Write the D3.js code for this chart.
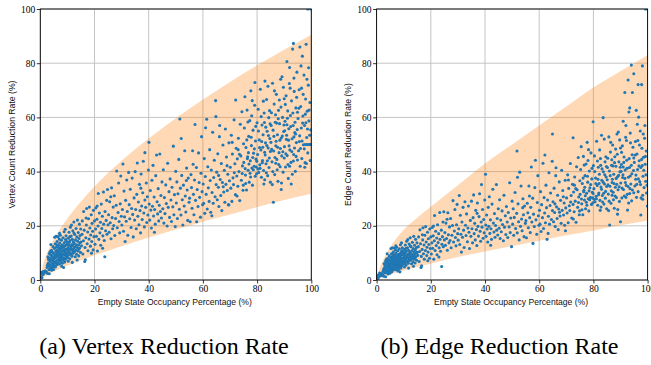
<!DOCTYPE html>
<html>
<head>
<meta charset="utf-8">
<script src="https://cdn.jsdelivr.net/npm/d3@7"></script>
<style>
  html, body { margin: 0; padding: 0; background: #ffffff; }
  svg { display: block; }
</style>
</head>
<body>
<script>
// ---- Data -----------------------------------------------------------------
// Scatter: [empty state occupancy %, vertex count reduction %]
const vertexPoints = [
[0.3,1.2],[0.5,2.4],[0.8,2.9],[1.0,2.0],[1.2,3.1],[1.5,2.6],[0.6,0.8],[1.8,3.4],[0.2,2.8],
[2.2,3.1],[2.5,4.6],[2.7,2.4],[2.9,6.2],[3.0,5.1],[3.1,7.4],[3.2,3.8],[3.3,2.3],[3.4,8.1],[3.5,5.7],[3.6,4.2],[3.7,6.8],[3.8,9.3],[3.9,13.1],[4.0,5.0],[4.1,7.7],[4.2,3.6],[4.3,8.8],[4.4,6.1],[4.5,10.2],[4.5,4.7],[4.6,7.2],[4.7,12.3],[4.8,5.5],[4.8,8.4],[4.9,9.8],[5.0,6.6],[3.0,7.9],[2.6,5.4],[4.1,11.0],[3.3,9.8],[4.4,4.1],[2.8,8.6],[4.9,3.9],[3.6,10.4],
[5.1,7.9],[5.2,11.6],[5.2,5.3],[5.3,15.8],[5.4,9.1],[5.4,6.4],[5.5,13.4],[5.6,8.2],[5.6,4.8],[5.7,10.5],[5.8,7.0],[5.8,16.1],[5.9,12.1],[6.0,9.6],[6.0,6.1],[6.1,8.7],[6.2,14.2],[6.2,5.6],[6.3,11.0],[6.4,7.5],[6.4,10.1],[6.5,16.0],[6.6,8.9],[6.6,6.3],[6.7,12.7],[6.8,9.8],[6.8,7.2],[6.9,11.7],[7.0,15.1],[7.0,8.1],[7.1,5.9],[7.2,10.6],[7.2,13.6],[7.3,7.6],[7.4,9.3],[7.4,16.5],[7.5,11.3],[7.6,6.8],[7.6,8.6],[7.7,12.4],[7.8,10.0],[7.8,14.7],[7.9,7.9],[8.0,9.0],[8.0,11.8],[8.1,6.2],[8.2,13.0],[8.2,8.4],[8.3,10.7],[8.4,15.6],[8.5,7.3],[8.5,12.1],[8.6,9.5],[8.7,11.0],[8.8,17.8],[8.8,8.0],[8.9,13.8],[9.0,10.3],[9.0,6.6],[9.1,12.6],[9.2,9.1],[9.3,14.9],[9.3,11.4],[9.4,7.7],[9.5,10.0],[9.5,16.3],[9.6,12.9],[9.7,8.7],[9.8,11.1],[9.8,14.2],[9.9,9.7],[10.0,13.3],[6.1,13.0],[7.9,5.1],[8.6,4.6],[5.9,10.8],[7.1,17.2],[9.2,18.7],
[10.1,8.3],[10.2,11.9],[10.3,15.4],[10.3,6.9],[10.4,10.4],[10.5,12.8],[10.6,9.2],[10.6,17.6],[10.7,13.9],[10.8,11.2],[10.9,7.8],[11.0,14.6],[11.0,10.0],[11.1,19.5],[11.2,12.3],[11.3,9.6],[11.4,16.2],[11.5,11.5],[11.5,20.3],[11.6,13.1],[11.7,8.8],[11.8,15.0],[11.9,10.8],[12.0,12.7],[12.0,18.2],[12.1,9.9],[12.2,14.1],[12.3,11.6],[12.4,21.4],[12.5,13.5],[12.6,10.4],[12.7,16.8],[12.8,12.2],[12.9,8.6],[13.0,14.8],[13.1,11.0],[13.2,19.0],[13.3,13.0],[13.4,9.5],[13.5,15.9],[13.6,12.0],[13.7,22.1],[13.8,14.3],[13.9,10.7],[14.0,17.5],[14.1,12.9],[14.2,8.9],[14.3,15.3],[14.4,20.6],[14.5,11.8],[14.6,13.7],[14.7,16.4],[14.8,10.2],[14.9,18.8],[15.0,14.0],[11.8,6.5],[13.6,7.4],[12.4,17.3],[10.9,16.0],[14.2,11.4],
[15.2,12.6],[15.4,16.9],[15.5,21.8],[15.7,9.6],[15.9,14.5],[16.0,25.3],[16.2,18.4],[16.4,6.8],[16.5,12.0],[16.6,7.5],[16.8,15.6],[17.0,20.3],[17.1,26.4],[17.3,13.4],[17.5,17.7],[17.6,10.8],[17.8,22.6],[18.0,15.1],[18.1,26.9],[18.3,19.2],[18.5,12.5],[18.6,16.6],[18.8,24.1],[19.0,14.2],[19.1,20.9],[19.3,18.0],[19.5,11.1],[19.6,25.7],[19.8,16.0],[20.0,21.8],[16.9,22.9],[18.9,9.9],
[20.2,13.2],[20.4,18.8],[20.5,26.6],[20.7,16.1],[20.9,22.4],[21.1,10.7],[21.3,19.9],[21.4,31.9],[21.6,15.0],[21.8,24.7],[22.0,17.4],[22.2,21.3],[22.3,12.8],[22.5,28.0],[22.7,19.0],[22.9,23.5],[23.1,16.3],[23.3,32.5],[23.4,20.6],[23.6,14.6],[23.8,8.6],[23.9,25.3],[24.1,18.2],[24.3,22.0],[24.5,29.4],[24.6,16.9],[24.8,33.4],[25.0,20.4],[21.0,27.3],[23.0,11.7],
[25.2,24.1],[25.4,17.6],[25.6,28.9],[25.8,21.1],[26.1,15.2],[26.3,34.0],[26.5,23.0],[26.7,18.9],[26.9,26.9],[27.1,20.1],[27.3,31.1],[27.5,16.4],[27.8,22.7],[28.0,27.6],[28.2,40.2],[28.4,19.3],[28.7,24.9],[28.9,35.8],[29.1,21.6],[29.3,17.4],[29.5,28.1],[29.7,38.4],[29.9,23.5],[26.0,30.7],
[30.1,20.3],[30.3,26.0],[30.5,42.8],[30.7,18.0],[30.9,32.8],[31.1,23.3],[31.3,14.2],[31.5,29.4],[31.7,21.7],[31.9,36.9],[32.1,25.3],[32.3,16.5],[32.6,39.7],[32.8,27.8],[33.0,22.6],[33.2,33.5],[33.5,19.4],[33.7,26.4],[33.9,37.6],[34.1,24.2],[34.3,15.9],[34.6,30.3],[34.8,22.1],[35.0,40.0],
[35.2,26.0],[35.4,18.9],[35.6,31.6],[35.8,43.2],[36.0,23.5],[36.2,28.8],[36.4,20.4],[36.6,35.3],[36.8,25.6],[37.0,17.4],[37.2,39.1],[37.4,27.3],[37.6,22.3],[37.8,32.2],[38.0,43.8],[38.2,24.7],[38.4,19.6],[38.6,29.5],[38.6,47.0],[38.9,26.8],[39.1,35.8],[39.3,21.2],[39.5,30.7],[39.7,24.0],[39.9,40.6],[37.1,33.9],
[40.1,50.8],[40.2,28.0],[40.4,22.1],[40.6,33.0],[40.8,25.8],[41.0,19.2],[41.2,36.8],[41.4,27.2],[41.6,42.3],[41.8,23.6],[42.0,30.6],[42.2,26.0],[42.4,20.6],[42.6,38.5],[42.9,46.1],[43.1,28.9],[43.3,24.4],[43.5,33.7],[43.7,21.8],[43.9,27.6],[44.1,46.5],[44.3,25.3],[44.5,31.2],[44.7,22.9],[44.9,36.2],[42.1,17.6],
[45.2,26.3],[45.4,40.7],[45.6,21.0],[45.8,30.4],[46.0,24.5],[46.3,35.1],[46.5,28.2],[46.8,19.9],[47.0,43.1],[47.2,26.8],[47.5,32.6],[47.7,23.1],[47.9,37.3],[48.2,29.5],[48.4,21.6],[48.6,34.2],[48.9,27.0],[49.1,49.4],[49.3,24.1],[49.5,31.5],[49.8,19.7],[50.0,40.1],
[50.2,28.4],[50.4,36.2],[50.6,22.7],[50.8,31.8],[51.1,44.5],[51.3,26.1],[51.5,59.4],[51.7,33.9],[51.9,24.0],[52.2,38.6],[52.4,29.6],[52.6,20.3],[52.8,35.0],[53.1,27.3],[53.3,47.7],[53.5,31.0],[53.7,25.1],[54.0,41.3],[54.2,33.2],[54.4,22.0],[54.6,37.6],[54.9,28.7],[52.0,52.2],[53.9,36.7],
[55.1,30.2],[55.3,21.5],[55.6,38.9],[55.8,34.1],[56.0,26.5],[56.2,47.7],[56.5,31.6],[56.7,24.1],[56.9,36.9],[57.1,57.4],[57.3,29.4],[57.6,41.5],[57.7,21.5],[57.9,33.4],[58.2,27.1],[58.4,46.9],[58.6,36.0],[58.8,30.5],[59.1,23.2],[59.3,39.4],[59.5,52.9],[59.7,32.6],[59.9,27.8],[56.4,42.7],
[60.1,35.4],[60.3,28.3],[60.5,44.8],[60.7,24.6],[60.9,38.2],[61.2,31.6],[61.4,59.3],[61.6,26.2],[61.8,41.8],[62.0,34.0],[62.3,29.0],[62.5,48.1],[62.7,36.7],[62.9,25.0],[63.1,40.6],[63.4,32.3],[63.6,54.5],[63.8,28.3],[64.0,37.8],[64.2,44.2],[64.5,30.7],[64.7,66.2],[64.8,60.3],[64.9,35.2],[61.0,56.2],[63.3,23.7],
[65.1,39.8],[65.3,29.6],[65.5,46.6],[65.7,34.2],[65.9,27.1],[66.1,52.9],[66.4,37.1],[66.6,31.2],[66.8,43.0],[67.0,25.6],[67.2,36.0],[67.4,49.8],[67.7,32.5],[67.9,40.5],[68.1,28.7],[68.3,55.7],[68.5,35.3],[68.7,45.4],[69.0,33.0],[69.2,39.0],[69.4,27.8],[69.6,50.6],[69.6,27.7],[69.8,36.6],[66.2,57.0],[68.9,42.2],[67.5,34.4],[65.8,38.6],
[70.1,41.6],[70.3,33.9],[70.5,53.4],[70.7,29.0],[70.9,46.5],[71.1,37.7],[71.3,35.2],[71.5,59.1],[71.8,42.9],[72.0,31.5],[72.1,66.4],[72.3,48.6],[72.5,38.4],[72.7,44.7],[72.9,34.6],[73.1,52.3],[73.3,40.0],[73.6,29.3],[73.8,57.5],[74.0,45.8],[74.2,36.8],[74.4,62.1],[74.6,42.1],[74.8,33.1],[75.0,50.3],[71.6,39.6],[73.0,48.1],[74.5,39.3],[70.8,50.8],[72.6,31.0],[74.9,35.0],[73.5,46.4],
[75.1,43.4],[75.3,56.1],[75.5,67.6],[75.7,38.7],[75.9,48.9],[76.1,33.2],[76.3,62.7],[76.5,45.5],[76.7,40.5],[76.9,53.0],[77.1,36.1],[77.3,58.8],[77.5,44.0],[77.7,69.8],[77.9,49.6],[78.1,41.3],[78.3,35.0],[78.5,55.3],[78.7,46.8],[78.9,42.0],[79.1,64.5],[79.2,72.9],[79.4,51.3],[79.6,44.6],[79.8,39.2],[80.0,58.0],[75.6,41.1],[76.2,51.7],[76.8,47.0],[77.4,39.4],[78.0,60.6],[78.6,40.7],[79.0,48.4],[79.5,56.7],[77.0,42.8],[78.4,45.2],[79.7,41.7],[75.8,35.6],[76.6,58.3],[77.8,52.7],[79.3,38.3],[78.2,66.2],[76.4,44.8],[77.6,38.0],[79.9,43.8],
[80.2,46.3],[80.4,63.0],[80.6,39.7],[80.8,51.7],[81.0,42.5],[81.2,70.4],[81.4,48.0],[81.6,37.9],[81.8,57.2],[82.0,44.1],[82.2,53.6],[82.4,40.4],[82.6,61.6],[82.8,47.1],[82.9,73.4],[83.1,50.6],[83.3,42.9],[83.5,66.6],[83.7,54.9],[83.9,38.5],[84.1,48.7],[84.3,59.9],[84.5,45.0],[84.7,52.2],[84.9,36.1],[81.1,41.2],[81.5,60.3],[82.1,49.0],[82.5,35.4],[83.0,46.1],[83.6,49.6],[84.0,71.5],[84.4,41.5],[84.8,57.6],[80.5,55.0],[81.9,43.3],[82.7,58.1],[83.4,39.6],[84.2,53.3],[80.9,48.9],[82.3,66.0],[83.8,44.0],[84.6,62.5],[80.3,41.0],[81.7,51.1],[83.2,56.4],[84.9,47.4],[82.8,37.0],
[85.1,50.8],[85.3,61.7],[85.5,43.6],[85.7,72.6],[85.9,55.3],[86.0,28.7],[86.1,47.6],[86.3,64.9],[86.5,38.9],[86.7,58.2],[86.9,49.5],[87.1,68.5],[87.3,44.5],[87.5,53.6],[87.7,36.4],[87.9,62.6],[88.1,47.0],[88.3,57.7],[88.5,41.8],[88.7,74.1],[88.9,52.4],[89.1,45.8],[89.2,75.0],[89.4,60.0],[89.6,39.8],[89.8,54.8],[90.0,66.9],[85.4,48.2],[85.8,40.0],[86.2,53.0],[86.6,45.2],[86.8,61.0],[87.2,57.9],[87.6,49.0],[88.0,42.6],[88.4,51.6],[88.8,63.8],[89.0,35.8],[89.5,47.3],[89.9,57.2],[85.6,35.2],[86.4,69.8],[87.4,40.7],[88.2,66.4],[88.6,48.5],[89.3,53.1],[87.8,59.5],[86.9,43.1],[85.2,57.0],[88.9,33.4],[87.0,51.2],[89.7,71.1],
[90.1,49.2],[90.3,58.6],[90.5,41.7],[90.7,68.0],[90.9,53.4],[91.0,80.6],[91.1,45.9],[91.3,62.4],[91.5,37.5],[91.7,55.8],[91.9,72.5],[92.1,48.0],[92.3,60.7],[92.5,43.4],[92.7,66.1],[92.9,52.1],[93.1,85.2],[93.3,57.0],[93.4,87.3],[93.5,46.3],[93.7,69.6],[93.9,54.4],[94.1,40.1],[94.3,63.5],[94.5,50.7],[94.7,76.7],[94.9,44.3],[90.2,55.1],[90.6,46.6],[91.2,59.7],[91.6,51.6],[92.0,42.0],[92.4,56.6],[92.8,47.4],[93.2,61.6],[93.6,52.8],[94.0,58.2],[94.4,45.6],[94.8,55.5],[90.4,64.8],[91.4,42.6],[92.2,70.8],[93.0,39.0],[93.8,48.7],[94.6,67.4],[91.8,49.5],[92.6,35.4],[94.2,53.9],[90.8,51.9],[93.4,43.9],[92.0,78.4],[91.0,57.3],[94.9,61.9],[93.6,74.5],[90.0,45.0],
[95.1,59.6],[95.3,47.7],[95.5,70.2],[95.7,53.2],[95.8,86.0],[95.9,42.0],[96.1,64.0],[96.3,56.1],[96.5,44.8],[96.7,82.6],[96.9,60.5],[97.1,49.9],[97.3,75.6],[97.5,57.0],[97.7,43.3],[97.9,66.8],[98.1,87.0],[98.3,52.6],[98.5,62.3],[98.7,46.9],[98.9,71.9],[99.1,58.7],[99.3,50.0],[99.5,65.5],[99.7,50.0],[99.9,50.0],[97.7,50.0],[98.3,50.0],[98.8,50.0],[96.2,79.0],[96.6,51.3],[97.0,68.5],[97.4,48.4],[97.8,61.2],[98.2,43.0],[98.6,55.7],[99.0,78.3],[99.4,53.4],[95.4,63.4],[96.0,48.5],[96.8,57.9],[97.6,41.6],[98.4,74.1],[99.2,62.7],[95.6,51.1],[96.4,70.8],[98.0,58.0],[99.6,44.1],[98.7,100],[99.8,100],[99.8,55.4]
];

// Scatter: [empty state occupancy %, edge count reduction %]
const edgePoints = [
[0.3,1.0],[0.6,1.8],[0.9,1.3],[1.2,2.1],[1.5,1.6],[1.9,2.4],[0.5,0.6],[1.1,2.6],
[2.2,1.9],[2.4,3.2],[2.6,1.4],[2.8,4.3],[3.0,2.6],[3.1,5.2],[3.2,3.6],[3.3,1.2],[3.4,6.1],[3.5,4.0],[3.6,2.8],[3.7,4.9],[3.8,6.8],[3.9,9.7],[4.0,3.4],[4.1,5.5],[4.2,2.2],[4.3,6.4],[4.4,4.4],[4.5,7.5],[4.5,3.0],[4.6,5.1],[4.7,8.9],[4.8,3.8],[4.8,6.0],[4.9,7.2],[5.0,4.7],[3.0,5.7],[2.6,3.9],[4.1,8.0],[3.3,7.0],[4.4,2.6],[2.8,6.1],[4.9,2.5],[3.6,7.6],
[5.1,5.6],[5.2,8.3],[5.2,3.5],[5.3,11.6],[5.4,6.5],[5.4,4.3],[5.5,9.7],[5.6,5.8],[5.6,3.0],[5.7,7.6],[5.8,4.9],[5.8,11.9],[5.9,8.8],[6.0,6.8],[6.0,4.0],[6.1,6.1],[6.2,10.4],[6.2,3.7],[6.3,8.0],[6.4,5.3],[6.4,7.2],[6.5,11.8],[6.6,6.3],[6.6,4.2],[6.7,9.2],[6.8,7.0],[6.8,5.0],[6.9,8.5],[7.0,11.1],[7.0,5.7],[7.1,3.8],[7.2,7.6],[7.2,9.9],[7.3,5.3],[7.4,6.6],[7.4,12.1],[7.5,8.2],[7.6,4.6],[7.6,6.0],[7.7,9.0],[7.8,7.1],[7.8,10.8],[7.9,5.5],[8.0,6.4],[8.0,8.6],[8.1,4.1],[8.2,9.5],[8.2,5.9],[8.3,7.7],[8.4,11.5],[8.5,5.0],[8.5,8.8],[8.6,6.7],[8.7,7.9],[8.8,13.0],[8.8,5.6],[8.9,10.1],[9.0,7.4],[9.0,4.4],[9.1,9.2],[9.2,6.4],[9.3,10.9],[9.3,8.2],[9.4,5.3],[9.5,7.1],[9.5,11.9],[9.6,9.4],[9.7,6.0],[9.8,8.0],[9.8,10.4],[9.9,6.9],[10.0,9.7],[6.1,9.5],[7.9,3.3],[8.6,3.0],[5.9,7.8],[7.1,12.6],[9.2,13.7],
[10.1,5.9],[10.2,8.7],[10.3,11.3],[10.3,4.8],[10.4,7.5],[10.5,9.3],[10.6,6.5],[10.6,12.9],[10.7,10.2],[10.8,8.1],[10.9,5.5],[11.0,10.7],[11.0,7.2],[11.1,14.3],[11.2,8.9],[11.3,6.8],[11.4,11.9],[11.5,8.3],[11.5,14.9],[11.6,9.6],[11.7,6.2],[11.8,11.0],[11.9,7.8],[12.0,9.3],[12.0,13.3],[12.1,7.1],[12.2,10.3],[12.3,8.4],[12.4,15.6],[12.5,9.9],[12.6,7.5],[12.7,12.3],[12.8,8.9],[12.9,6.0],[13.0,10.8],[13.1,7.9],[13.2,13.9],[13.3,9.5],[13.4,6.7],[13.5,11.6],[13.6,8.7],[13.7,16.1],[13.8,10.4],[13.9,7.7],[14.0,12.8],[14.1,9.4],[14.2,6.3],[14.3,11.2],[14.4,15.0],[14.5,8.6],[14.6,10.0],[14.7,12.0],[14.8,7.3],[14.9,13.7],[15.0,10.2],[11.8,4.4],[13.6,5.1],[12.4,12.6],[10.9,11.7],[14.2,8.2],
[15.2,9.1],[15.4,12.3],[15.5,15.9],[15.7,6.8],[15.9,10.5],[16.0,18.5],[16.2,13.4],[16.4,4.6],[16.5,8.7],[16.6,5.2],[16.8,11.3],[17.0,14.8],[17.1,19.3],[17.3,9.7],[17.5,12.9],[17.6,7.7],[17.8,16.5],[18.0,10.9],[18.1,19.7],[18.3,14.0],[18.5,9.0],[18.6,12.1],[18.8,17.6],[19.0,10.3],[19.1,15.2],[19.3,13.1],[19.5,8.0],[19.6,18.8],[19.8,11.6],[20.0,15.9],[16.9,16.7],[18.9,7.1],
[20.2,9.6],[20.4,13.7],[20.5,19.4],[20.7,11.7],[20.9,16.3],[21.1,7.7],[21.3,14.5],[21.4,23.8],[21.6,10.9],[21.8,18.0],[22.0,12.7],[22.2,15.5],[22.3,9.3],[22.5,20.4],[22.7,13.8],[22.9,17.1],[23.1,11.9],[23.3,24.9],[23.4,15.0],[23.6,10.6],[24.0,5.0],[23.9,18.4],[24.1,13.2],[24.3,16.0],[24.5,21.4],[24.6,12.3],[24.8,25.2],[25.0,14.8],[21.0,19.9],[23.0,8.5],
[25.2,17.5],[25.4,12.8],[25.6,21.0],[25.8,15.3],[26.1,11.0],[26.3,24.8],[26.5,16.7],[26.7,13.7],[26.9,19.6],[27.1,14.6],[27.3,22.7],[27.5,11.9],[27.8,16.5],[28.0,20.1],[28.2,29.3],[28.4,14.0],[28.7,18.1],[28.9,26.0],[29.1,15.7],[29.3,12.6],[29.5,20.4],[29.7,27.9],[29.9,17.1],[26.0,22.4],
[30.1,14.7],[30.3,18.9],[30.5,31.2],[30.7,13.1],[30.9,23.9],[31.1,16.9],[31.3,10.3],[31.5,21.4],[31.7,15.8],[31.9,26.8],[32.1,18.4],[32.3,12.0],[32.6,28.9],[32.8,20.2],[33.0,16.4],[33.2,24.4],[33.5,14.1],[33.7,19.2],[33.9,27.3],[34.1,17.6],[34.3,11.6],[34.6,22.0],[34.8,16.1],[35.0,29.1],
[35.2,18.9],[35.4,13.7],[35.6,23.0],[35.8,31.4],[36.0,17.1],[36.2,20.9],[36.4,14.8],[36.6,25.7],[36.8,18.6],[37.0,12.7],[37.2,28.4],[37.4,19.8],[37.6,16.2],[37.8,23.4],[38.0,31.8],[38.2,18.0],[38.4,14.3],[38.6,21.4],[38.7,35.2],[38.9,19.5],[39.1,26.0],[39.3,15.4],[39.5,22.3],[39.7,17.4],[39.9,29.5],[37.1,24.6],
[40.2,39.0],[40.3,20.3],[40.4,16.1],[40.6,24.0],[40.8,18.8],[41.0,14.0],[41.2,26.8],[41.4,19.8],[41.6,30.7],[41.8,17.2],[42.0,22.2],[42.2,18.9],[42.4,15.0],[42.6,28.0],[42.9,33.5],[43.1,21.0],[43.3,17.7],[43.5,24.5],[43.7,15.8],[43.9,20.1],[44.2,35.2],[44.3,18.4],[44.5,22.7],[44.7,16.6],[44.9,26.3],[42.1,12.8],
[45.2,19.1],[45.4,29.6],[45.6,15.3],[45.8,22.1],[46.0,17.8],[46.3,25.5],[46.5,20.5],[46.8,14.5],[47.0,31.3],[47.2,19.5],[47.5,23.7],[47.7,16.8],[47.9,27.1],[48.2,21.4],[48.4,15.7],[48.6,24.9],[48.9,19.6],[49.1,35.9],[49.3,17.5],[49.5,22.9],[49.8,12.3],[50.0,29.1],
[50.2,20.6],[50.4,26.3],[50.6,16.5],[50.8,23.1],[51.1,32.3],[51.3,19.0],[51.8,47.6],[51.7,24.6],[51.9,17.4],[52.2,28.1],[52.4,21.5],[52.6,14.8],[52.8,39.8],[53.1,19.8],[53.3,34.7],[53.5,22.5],[53.7,18.2],[54.0,30.0],[54.2,24.1],[54.4,16.0],[54.6,27.3],[54.9,20.9],[52.0,37.9],[53.9,26.7],
[55.1,21.9],[55.3,15.6],[55.6,28.3],[55.8,24.8],[56.0,19.3],[56.2,34.7],[56.5,23.0],[56.7,17.5],[56.9,26.8],[57.1,41.7],[57.3,21.4],[57.6,30.2],[57.7,13.5],[57.9,24.3],[58.2,19.7],[58.4,34.1],[58.6,44.2],[58.8,22.2],[59.1,16.9],[59.3,28.6],[59.5,38.5],[59.7,23.7],[59.9,20.2],[56.4,31.0],
[60.1,25.7],[60.3,20.6],[60.5,32.6],[60.7,17.9],[60.9,27.8],[61.2,23.0],[61.4,43.1],[61.6,19.0],[61.8,30.4],[62.1,46.1],[62.0,24.7],[62.3,21.1],[62.5,35.0],[62.7,26.7],[62.9,15.0],[63.1,29.5],[63.4,23.5],[63.6,39.6],[63.8,20.6],[64.0,27.5],[64.2,32.1],[64.5,22.3],[64.9,53.9],[64.8,43.8],[64.9,25.6],[63.3,17.2],
[65.1,28.9],[65.3,21.5],[65.5,33.9],[65.7,24.9],[65.9,19.7],[66.1,38.5],[66.4,27.0],[66.6,22.7],[66.8,31.3],[67.0,18.6],[67.2,26.2],[67.4,36.2],[67.7,23.6],[67.9,29.4],[68.1,20.9],[68.3,40.5],[68.5,25.7],[68.7,33.0],[69.0,24.0],[69.2,28.4],[69.4,20.2],[69.6,36.8],[69.7,18.2],[69.8,26.6],[66.2,41.4],[68.9,30.7],[67.5,25.0],[65.8,28.1],
[70.1,30.3],[70.3,24.7],[70.5,38.8],[70.7,21.1],[70.9,33.8],[71.1,27.4],[71.3,25.6],[71.5,43.0],[71.8,31.2],[72.0,22.9],[72.5,52.5],[72.3,35.3],[72.5,27.9],[72.7,32.5],[72.9,25.2],[73.1,38.0],[73.3,29.1],[73.6,21.3],[73.8,41.8],[74.0,33.3],[74.2,26.8],[74.4,45.2],[74.6,30.6],[74.8,24.1],[75.0,36.6],[71.6,28.8],[73.0,35.0],[74.5,28.6],[70.8,36.9],[72.6,22.5],[74.9,25.5],[73.5,33.7],
[75.1,31.6],[75.3,40.8],[75.5,49.2],[75.7,28.1],[75.9,35.6],[76.1,24.1],[76.3,45.6],[76.5,33.1],[76.7,29.5],[76.9,38.5],[77.1,26.3],[77.3,42.8],[77.5,32.0],[77.7,50.8],[77.9,36.1],[78.1,30.0],[78.3,25.5],[78.5,40.2],[78.7,34.0],[78.9,30.5],[79.1,46.9],[79.9,58.4],[79.4,37.3],[79.6,32.4],[79.8,28.5],[80.0,42.2],[75.6,29.9],[76.2,37.6],[76.8,34.2],[77.4,28.7],[78.0,44.1],[78.6,29.6],[79.0,35.2],[79.5,41.2],[77.0,31.1],[78.4,32.9],[79.7,30.3],[75.8,25.9],[76.6,42.4],[77.8,38.3],[79.3,27.9],[78.2,48.1],[76.4,32.6],[77.6,27.6],[79.9,31.9],
[80.2,33.7],[80.4,45.8],[80.6,28.9],[80.8,37.6],[81.0,30.9],[81.2,51.2],[81.4,34.9],[81.6,27.6],[81.8,41.6],[82.0,32.1],[82.2,39.0],[82.4,29.4],[82.6,44.8],[82.8,34.3],[83.0,53.4],[83.1,36.8],[83.3,31.2],[83.6,59.9],[83.7,39.9],[83.9,28.0],[84.1,35.4],[84.3,43.6],[84.5,32.7],[84.7,38.0],[84.9,26.3],[81.1,30.0],[81.5,43.9],[82.1,35.6],[82.5,25.7],[83.0,33.5],[83.6,36.1],[84.0,52.0],[84.4,30.2],[84.8,41.9],[80.5,40.0],[81.9,31.5],[82.7,42.3],[83.4,28.8],[84.2,38.8],[80.9,35.6],[82.3,48.0],[83.8,32.0],[84.6,45.5],[80.3,29.8],[81.7,37.2],[83.2,41.0],[84.9,34.5],[82.8,26.9],
[85.1,37.0],[85.3,44.9],[85.5,31.7],[85.7,52.8],[85.9,40.2],[86.0,20.3],[86.1,34.6],[86.3,47.2],[86.5,28.3],[86.7,42.3],[86.9,36.0],[87.1,49.8],[87.3,32.4],[87.5,39.0],[87.7,26.5],[87.9,45.5],[88.1,34.2],[88.3,42.0],[88.5,30.4],[88.7,53.9],[88.9,38.1],[89.1,33.3],[89.2,54.6],[89.4,43.6],[89.6,29.0],[89.8,39.9],[90.0,48.7],[85.4,35.1],[85.8,29.1],[86.2,38.5],[86.6,32.9],[86.8,44.4],[87.2,42.1],[87.6,35.6],[88.0,31.0],[88.4,37.5],[88.8,46.4],[89.0,26.0],[89.5,34.4],[89.9,41.6],[85.6,25.6],[86.4,50.8],[87.4,29.6],[88.2,48.3],[88.6,35.3],[89.3,38.6],[87.8,43.3],[86.9,31.3],[85.2,41.5],[88.9,24.3],[87.0,37.2],[89.7,51.7],
[90.1,35.8],[90.3,42.6],[90.5,30.3],[90.7,49.5],[90.9,38.8],[91.0,58.6],[91.1,33.4],[91.3,45.4],[91.6,69.2],[91.7,40.6],[91.9,52.7],[92.1,34.9],[92.3,44.2],[92.5,31.6],[92.8,73.8],[92.9,37.9],[93.1,62.0],[93.3,41.5],[93.4,63.5],[93.5,33.7],[93.7,50.6],[94.0,79.3],[94.1,29.2],[94.3,46.2],[94.4,69.2],[94.9,76.1],[94.9,32.2],[90.2,40.1],[90.6,33.9],[91.2,43.4],[91.6,37.5],[92.0,30.5],[92.4,41.2],[92.8,34.5],[93.2,44.8],[93.6,38.4],[94.0,42.3],[94.4,33.2],[94.8,40.4],[90.4,47.1],[91.4,31.0],[92.2,51.5],[93.0,28.4],[93.8,35.4],[94.6,49.0],[91.8,36.0],[92.6,25.8],[94.2,39.2],[90.8,37.8],[93.4,31.9],[92.0,57.0],[91.0,41.7],[94.9,45.0],[93.6,54.2],[90.0,21.5],
[95.1,43.4],[95.3,34.7],[95.5,51.1],[95.7,38.7],[95.8,62.6],[95.9,30.5],[96.1,46.5],[96.5,72.1],[96.3,40.8],[96.5,32.6],[96.7,60.1],[96.9,44.0],[97.1,36.3],[97.3,55.0],[97.5,41.5],[97.8,72.1],[97.9,48.6],[98.1,79.0],[98.3,38.3],[98.5,45.3],[98.7,34.1],[98.9,52.3],[99.1,42.7],[99.3,36.4],[99.5,47.6],[99.9,27.3],[98.2,29.8],[97.5,24.0],[96.2,57.5],[96.6,37.3],[97.0,49.8],[97.4,35.2],[97.8,44.5],[98.2,31.3],[98.6,40.5],[99.0,57.0],[99.4,38.8],[95.4,46.1],[96.0,35.3],[96.8,42.1],[97.6,30.3],[98.4,53.9],[99.2,45.6],[95.6,37.2],[96.4,51.5],[98.0,42.2],[99.6,32.1],[99.2,100],[99.9,100],[99.8,35.0]
];

// Shaded envelope, sampled along the occupancy axis
const bandX            = [0, 1,   2,   5,    10,   15,   20,   30,   40,   50,   60,   70,   80,   90,   100];
const vertexBandUpper  = [0, 5.7, 8.7, 15.0, 22.7, 29.0, 34.5, 44.0, 52.2, 59.7, 66.6, 73.1, 79.2, 85.0, 90.5];
const vertexBandLower  = [0, 0.9, 1.5, 3.1,  5.3,  7.3,  9.1,  12.5, 15.7, 18.6, 21.5, 24.2, 26.9, 29.5, 31.8];
const edgeBandUpper    = [0, 4.0, 6.5, 12.0, 18.5, 23.0, 27.0, 35.0, 43.0, 50.0, 57.0, 64.0, 71.0, 77.0, 83.0];
const edgeBandLower    = [0, 0.5, 1.0, 2.0,  3.5,  4.8,  6.0,  8.5,  10.5, 12.5, 14.5, 16.5, 18.3, 20.2, 22.0];

const xTicks = [0, 20, 40, 60, 80, 100];
const yTicks = [0, 20, 40, 60, 80, 100];
const xLabel = "Empty State Occupancy Percentage (%)";
const yLabels = ["Vertex Count Reduction Rate (%)", "Edge Count Reduction Rate (%)"];
const captions = ["(a) Vertex Reduction Rate", "(b) Edge Reduction Rate"];

// ---- Layout ---------------------------------------------------------------
const W = 651, H = 365;
const plotTop = 9, plotBottom = 280;
const panels = [
  { left: 40.3, right: 311.3, yLabelX: 11.5, captionX: 164, points: vertexPoints,
    upper: vertexBandUpper, lower: vertexBandLower, yLabel: yLabels[0], caption: captions[0] },
  { left: 376.6, right: 647.6, yLabelX: 348, captionX: 499.5, points: edgePoints,
    upper: edgeBandUpper, lower: edgeBandLower, yLabel: yLabels[1], caption: captions[1] }
];

const tickFont = "'Liberation Serif', 'Times New Roman', serif";
const labelFont = "'Liberation Sans', Arial, sans-serif";

const svg = d3.select("body").append("svg")
  .attr("width", W).attr("height", H)
  .attr("viewBox", `0 0 ${W} ${H}`);

// scale a text element's font size so its rendered width hits a target
function fitWidth(sel, target) {
  const node = sel.node();
  const w = node.getComputedTextLength();
  const fs = parseFloat(sel.attr("font-size"));
  if (w > 0) sel.attr("font-size", (fs * target / w).toFixed(2));
}

panels.forEach((p, i) => {
  const x = d3.scaleLinear().domain([0, 100]).range([p.left, p.right]);
  const y = d3.scaleLinear().domain([0, 100]).range([plotBottom, plotTop]);
  const g = svg.append("g");

  const clipId = "clip" + i;
  svg.append("clipPath").attr("id", clipId)
    .append("rect")
    .attr("x", p.left).attr("y", plotTop)
    .attr("width", p.right - p.left).attr("height", plotBottom - plotTop);

  // grid
  const grid = g.append("g").attr("stroke", "#c4c4c4").attr("stroke-width", 1);
  grid.selectAll("line.v").data(xTicks).join("line")
    .attr("x1", d => x(d)).attr("x2", d => x(d))
    .attr("y1", plotTop).attr("y2", plotBottom);
  grid.selectAll("line.h").data(yTicks).join("line")
    .attr("x1", p.left).attr("x2", p.right)
    .attr("y1", d => y(d)).attr("y2", d => y(d));

  // envelope band
  const area = d3.area()
    .x((d, k) => x(bandX[k]))
    .y0((d, k) => y(p.lower[k]))
    .y1((d, k) => y(p.upper[k]))
    .curve(d3.curveMonotoneX);
  g.append("path")
    .attr("clip-path", `url(#${clipId})`)
    .attr("d", area(bandX))
    .attr("fill", "#ff7f0e")
    .attr("fill-opacity", 0.3);

  // scatter points
  g.append("g").attr("clip-path", `url(#${clipId})`)
    .selectAll("circle").data(p.points).join("circle")
    .attr("cx", d => x(d[0]))
    .attr("cy", d => y(d[1]))
    .attr("r", 1.55)
    .attr("fill", "#1f77b4");

  // axes
  const xAxis = g.append("g")
    .attr("transform", `translate(0,${plotBottom})`)
    .call(d3.axisBottom(x).tickValues(xTicks).tickSize(3.5).tickPadding(2).tickSizeOuter(0));
  const yAxis = g.append("g")
    .attr("transform", `translate(${p.left},0)`)
    .call(d3.axisLeft(y).tickValues(yTicks).tickSize(3.5).tickPadding(1.5).tickSizeOuter(0));
  [xAxis, yAxis].forEach(a => {
    a.select(".domain").remove();
    a.selectAll(".tick line").attr("stroke", "#000").attr("stroke-width", 0.8);
    a.selectAll(".tick text")
      .attr("font-family", tickFont)
      .attr("font-size", 9.5)
      .attr("fill", "#000");
  });

  // frame
  g.append("rect")
    .attr("x", p.left).attr("y", plotTop)
    .attr("width", p.right - p.left).attr("height", plotBottom - plotTop)
    .attr("fill", "none").attr("stroke", "#000").attr("stroke-width", 0.9);

  // axis titles
  const xt = g.append("text")
    .attr("x", (p.left + p.right) / 2 - 1).attr("y", 304.5)
    .attr("text-anchor", "middle")
    .attr("font-family", labelFont).attr("font-size", 9)
    .attr("fill", "#111")
    .text(xLabel);
  fitWidth(xt, 154);

  const yt = g.append("text")
    .attr("transform", `translate(${p.yLabelX + 3},${(plotTop + plotBottom) / 2}) rotate(-90)`)
    .attr("text-anchor", "middle")
    .attr("font-family", labelFont).attr("font-size", 9)
    .attr("fill", "#111")
    .text(p.yLabel);
  fitWidth(yt, i === 0 ? 128 : 123);

  // sub-figure caption
  svg.append("text")
    .attr("x", p.captionX).attr("y", 354)
    .attr("text-anchor", "middle")
    .attr("font-family", tickFont)
    .attr("font-size", 24)
    .attr("fill", "#000")
    .text(p.caption);
});
</script>
</body>
</html>
